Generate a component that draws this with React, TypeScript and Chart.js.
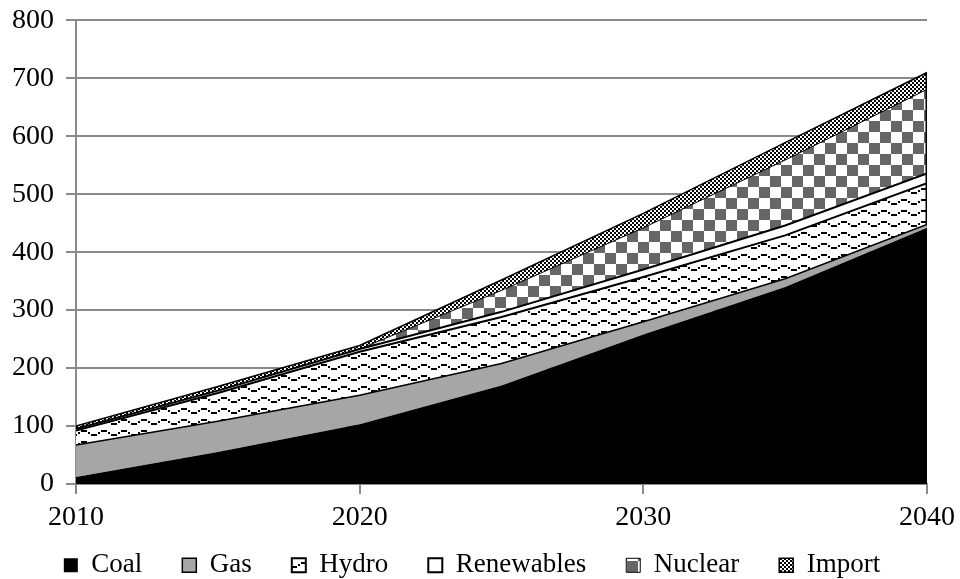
import React, { useEffect, useRef } from 'react';
import { Chart, registerables } from 'chart.js';

Chart.register(...registerables);

// ---- Data ----
const years = [2010, 2015, 2020, 2025, 2030, 2035, 2040];
const seriesLabels = ['Coal', 'Gas', 'Hydro', 'Renewables', 'Nuclear', 'Import'];
const coal = [12, 55, 103, 170, 258, 340, 442];
const gas = [55, 53, 50, 38, 22, 14, 6];
const hydro = [25, 49, 75, 80, 77, 75, 71];
const renewables = [3, 4, 5, 9, 13, 17, 17];
const nuclear = [0, 0, 0, 37, 72, 113, 145];
const imports = [5, 7, 6, 18, 25, 30, 29];
const yMin = 0;
const yMax = 800;
const yStep = 100;
const xMin = 2010;
const xMax = 2040;
const xStep = 10;

const FONT = 'Liberation Serif, "Times New Roman", serif';
const GREY_AXIS = '#8a8a8a';
const LEGEND_CENTER_Y = 568;
const LEGEND_SHIFT_X = -8;

function makePattern(w: number, h: number, draw: (g: CanvasRenderingContext2D) => void): CanvasPattern | string {
  const c = document.createElement('canvas');
  c.width = w;
  c.height = h;
  const g = c.getContext('2d');
  if (!g) return '#fff';
  draw(g);
  const p = g.createPattern(c, 'repeat');
  return p || '#fff';
}

function hydroPattern() {
  return makePattern(20, 11, (g) => {
    g.fillStyle = '#fff';
    g.fillRect(0, 0, 20, 11);
    g.fillStyle = '#000';
    g.fillRect(1, 1, 6, 2); // top dash
    g.fillRect(8, 3, 2, 2); // falling step
    g.fillRect(11, 5, 6, 2); // bottom dash
    g.fillRect(18, 3, 2, 2); // rising step
  });
}

function nuclearPattern() {
  const s = 11;
  return makePattern(2 * s, 2 * s, (g) => {
    g.fillStyle = '#ffffff';
    g.fillRect(0, 0, 2 * s, 2 * s);
    g.fillStyle = '#666666';
    g.fillRect(0, 0, s, s);
    g.fillRect(s, s, s, s);
  });
}

function importPattern() {
  return makePattern(4, 4, (g) => {
    g.fillStyle = '#000';
    g.fillRect(0, 0, 4, 4);
    g.fillStyle = '#fff';
    g.fillRect(0, 0, 2, 2);
    g.fillRect(2, 2, 2, 2);
  });
}

function toPoints(vals: number[]) {
  return years.map((x, i) => ({ x, y: vals[i] }));
}

// Moves the legend row to its place under the axis labels (keeps the wide item spacing).
const legendPlacer = {
  id: 'legendPlacer',
  afterLayout(chart: any) {
    const lg = chart.legend;
    if (!lg) return;
    const pad = lg.options.labels.padding;
    const lh = lg.options.labels.font.size * 1.2;
    lg.top = LEGEND_CENTER_Y - lh / 2 - pad;
    lg.bottom = chart.height;
    lg.height = lg.bottom - lg.top;
    lg.left += LEGEND_SHIFT_X;
    lg.right += LEGEND_SHIFT_X;
  },
};

// Outline of the stacked areas at the last category (as the original's area borders).
const endEdge = {
  id: 'endEdge',
  afterDatasetsDraw(chart: any) {
    const x = chart.scales.x;
    const y = chart.scales.y;
    const last = years.length - 1;
    const base = coal[last] + gas[last];
    const top = base + hydro[last] + renewables[last] + nuclear[last] + imports[last];
    const px = x.getPixelForValue(years[last]);
    const ctx = chart.ctx;
    ctx.save();
    ctx.strokeStyle = '#000';
    ctx.lineWidth = 1.5;
    ctx.beginPath();
    ctx.moveTo(px - 0.75, y.getPixelForValue(base));
    ctx.lineTo(px - 0.75, y.getPixelForValue(top));
    ctx.stroke();
    ctx.restore();
  },
};

export default function App() {
  const canvasRef = useRef<HTMLCanvasElement | null>(null);

  useEffect(() => {
    const canvas = canvasRef.current;
    if (!canvas) return;
    Chart.defaults.font.family = FONT;
    Chart.defaults.color = '#000';

    const values = [coal, gas, hydro, renewables, nuclear, imports];
    const fills: (string | CanvasPattern)[] = ['#000000', '#a6a6a6', hydroPattern(), '#ffffff', nuclearPattern(), importPattern()];
    const borderWidths = [0, 1.5, 2, 2, 1, 1.5];

    const datasets = values.map((v, i) => ({
      label: seriesLabels[i],
      data: toPoints(v),
      backgroundColor: fills[i] as any,
      borderColor: '#000000',
      borderWidth: borderWidths[i],
      fill: i === 0 ? 'origin' : '-1',
      pointRadius: 0,
      tension: 0,
    }));

    const chart = new Chart(canvas, {
      type: 'line',
      data: { datasets: datasets as any },
      plugins: [legendPlacer as any, endEdge as any],
      options: {
        animation: false,
        responsive: true,
        maintainAspectRatio: false,
        layout: { padding: { left: 0, right: 0, top: 0, bottom: 0 } },
        plugins: {
          legend: {
            position: 'bottom',
            maxHeight: 37,
            labels: {
              boxWidth: 14,
              boxHeight: 14,
              padding: 40,
              color: '#000',
              font: { size: 27, family: FONT },
            },
          } as any,
          tooltip: { enabled: false },
        },
        scales: {
          x: {
            type: 'linear',
            min: xMin,
            max: xMax,
            ticks: {
              stepSize: xStep,
              callback: (v: any) => String(v),
              font: { size: 28, family: FONT, lineHeight: 1.36 },
              color: '#000',
              padding: 5,
              maxRotation: 0,
            },
            grid: { drawOnChartArea: false, tickLength: 10, color: GREY_AXIS, lineWidth: 2 },
            border: { color: GREY_AXIS, width: 2 },
          },
          y: {
            stacked: true,
            min: yMin,
            max: yMax,
            ticks: {
              stepSize: yStep,
              font: { size: 28, family: FONT, lineHeight: 0.6 },
              color: '#000',
              padding: 12,
            },
            grid: { color: GREY_AXIS, lineWidth: 2, tickLength: 10 },
            border: { color: GREY_AXIS, width: 2 },
          },
        },
      } as any,
    });

    return () => {
      chart.destroy();
    };
  }, []);

  return (
    <div style={{ position: 'fixed', left: 0, top: 0, width: 960, height: 579, background: '#fff' }}>
      <canvas ref={canvasRef} />
    </div>
  );
}
